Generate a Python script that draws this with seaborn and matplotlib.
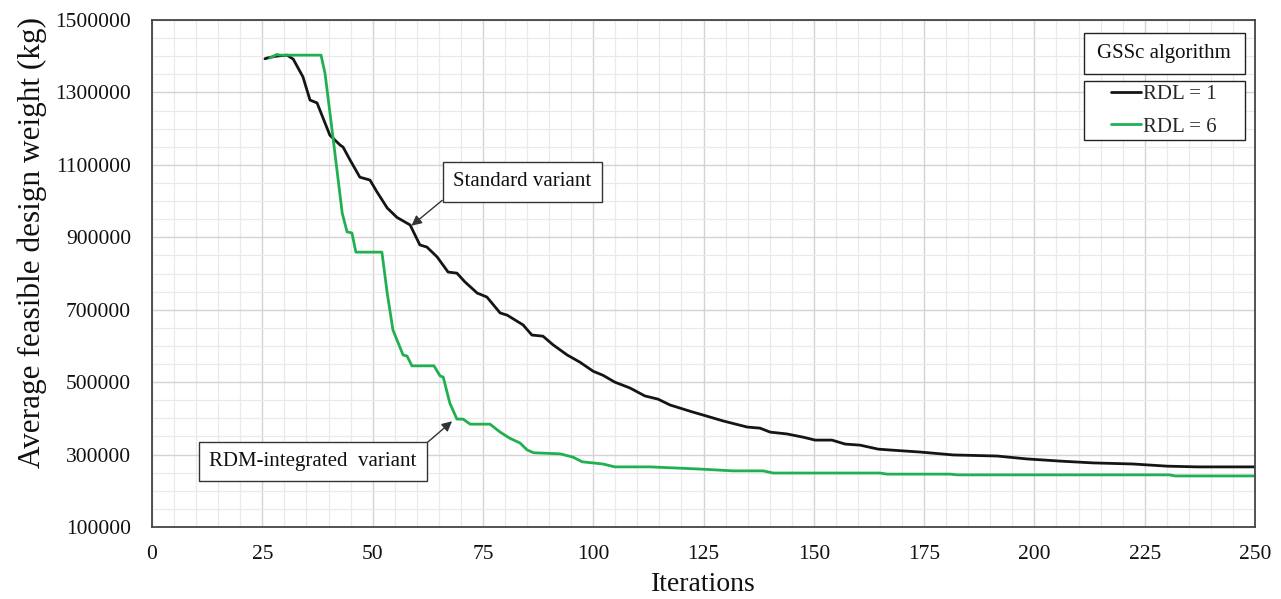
import matplotlib
matplotlib.use("Agg")
import matplotlib.pyplot as plt
from matplotlib.patches import Rectangle
from matplotlib.ticker import MultipleLocator
import seaborn as sns
import pandas as pd

# Average feasible design weight per iteration, RDL = 1 (standard variant)
iter_std = [25.6, 26.1, 28.0, 30.6, 32.0, 34.2, 35.8, 37.4, 40.3, 42.6, 43.3,
            44.9, 47.1, 49.4, 51.0, 53.3, 55.5, 58.5, 60.7, 62.3, 64.6, 67.1,
            69.1, 70.9, 73.7, 75.9, 78.9, 80.5, 84.1, 86.1, 88.6, 90.9, 94.1,
            97.0, 100.0, 102.2, 104.9, 108.3, 111.7, 114.7, 117.4, 122.4,
            125.8, 129.4, 134.9, 137.8, 140.1, 143.9, 147.6, 150.3, 154.1,
            157.1, 160.5, 164.6, 168.0, 174.1, 181.6, 191.5, 198.3, 205.8,
            213.3, 222.3, 230.1, 236.9, 250.0]
weight_std = [1393000, 1395000, 1400000, 1403000, 1392000, 1343000, 1279000,
              1271000, 1182000, 1155000, 1149000, 1113000, 1066000, 1058000,
              1025000, 981000, 955000, 934000, 879000, 873000, 846000, 804000,
              801000, 777000, 746000, 735000, 691000, 685000, 658000, 630000,
              627000, 603000, 575000, 555000, 530000, 519000, 500000, 484000,
              462000, 453000, 437000, 418000, 406000, 393000, 376000, 373000,
              362000, 357000, 348000, 340000, 340000, 329000, 326000, 315000,
              312000, 307000, 299000, 296000, 288000, 282000, 277000, 274000,
              268000, 266000, 266000]

# Average feasible design weight per iteration, RDL = 6 (RDM-integrated variant)
iter_rdm = [26.7, 28.3, 29.0, 38.3, 39.2, 41.0, 43.1, 44.2, 45.3, 46.2, 52.1,
            53.3, 54.6, 56.9, 57.8, 58.9, 63.9, 65.3, 66.0, 67.5, 69.1, 70.5,
            72.1, 76.6, 78.9, 81.1, 83.4, 85.0, 86.5, 92.5, 95.4, 97.5, 102.2,
            104.9, 112.9, 124.2, 131.7, 138.5, 140.8, 165.0, 166.6, 180.9,
            182.5, 230.5, 232.0, 250.0]
weight_rdm = [1395000, 1405000, 1403000, 1403000, 1353000, 1177000, 967000,
              915000, 912000, 859000, 859000, 746000, 644000, 575000, 572000,
              545000, 545000, 517000, 514000, 442000, 398000, 398000, 384000,
              384000, 362000, 345000, 332000, 313000, 305000, 302000, 293000,
              280000, 274000, 266000, 266000, 260000, 255000, 255000, 249000,
              249000, 246000, 246000, 244000, 244000, 241000, 241000]

series_labels = ["RDL = 1", "RDL = 6"]
series_colors = ["#151515", "#20b050"]
x_ticks = list(range(0, 251, 25))
y_ticks = list(range(100000, 1500001, 200000))

df = pd.concat([
    pd.DataFrame({"Iterations": iter_std, "Weight": weight_std, "RDL": series_labels[0]}),
    pd.DataFrame({"Iterations": iter_rdm, "Weight": weight_rdm, "RDL": series_labels[1]}),
], ignore_index=True)

sns.set_theme(style="white")
plt.rcParams["font.family"] = ["Liberation Serif", "DejaVu Serif"]

fig = plt.figure(figsize=(12.81, 5.99), dpi=100)
ax = fig.add_axes([0.1187, 0.1202, 0.861, 0.8464])

sns.lineplot(data=df, x="Iterations", y="Weight", hue="RDL",
             palette=dict(zip(series_labels, series_colors)),
             linewidth=2.0, ax=ax, estimator=None, sort=False)

ax.set_xlim(0, 250)
ax.set_ylim(100000, 1500000)
ax.set_xticks(x_ticks)
ax.set_yticks(y_ticks)
ax.set_xticklabels([str(t) for t in x_ticks], fontsize=15.5)
ax.set_yticklabels([str(t) for t in y_ticks], fontsize=15.5)
ax.xaxis.set_minor_locator(MultipleLocator(5))
ax.yaxis.set_minor_locator(MultipleLocator(50000))
ax.grid(True, which="major", color="#d3d3d3", linewidth=1.0)
ax.grid(True, which="minor", color="#eaeaea", linewidth=0.9)
ax.set_axisbelow(True)
ax.tick_params(axis="both", which="major", direction="in", length=6,
               width=1.0, color="#333333", labelcolor="#111111")
ax.tick_params(axis="x", which="major", pad=13)
ax.tick_params(axis="y", which="major", pad=15)
ax.tick_params(axis="both", which="minor", length=0)
for side in ["left", "right", "top", "bottom"]:
    ax.spines[side].set_color("#444444")
    ax.spines[side].set_linewidth(1.3)

ax.set_xlabel("Iterations", fontsize=20, labelpad=6, color="#111111")
ax.set_ylabel("Average feasible design weight (kg)", fontsize=22.5,
              labelpad=6, color="#111111", y=0.562)

# Framed title box and framed legend box in the upper-right corner
frame_kw = dict(transform=ax.transAxes, facecolor="white",
                edgecolor="#222222", linewidth=1.0, zorder=4)
ax.add_patch(Rectangle((0.845, 0.8935), 0.146, 0.0809, **frame_kw))
ax.add_patch(Rectangle((0.845, 0.7633), 0.146, 0.1164, **frame_kw))
ax.text(0.9175, 0.9339, "GSSc algorithm", transform=ax.transAxes,
        ha="center", va="center", fontsize=15, color="#111111", zorder=5)

handles, labels = ax.get_legend_handles_labels()
leg = ax.legend(handles, labels, loc="center",
                bbox_to_anchor=(0.9175, 0.8215), frameon=False,
                fontsize=15, handlelength=1.45, handletextpad=0.1,
                borderpad=0, labelspacing=0.62, borderaxespad=0)
leg.set_zorder(6)
for line in leg.get_lines():
    line.set_linewidth(2.0)

# Annotations pointing at each curve, arrows leaving from a box corner
ax.annotate("Standard variant", xy=(58.8, 932000), xytext=(83.9, 1053000),
            fontsize=15, ha="center", va="center", color="#111111",
            bbox=dict(boxstyle="square,pad=0.5", facecolor="white",
                      edgecolor="#333333", linewidth=1.0),
            arrowprops=dict(arrowstyle="-|>", color="#333333", lw=1.0,
                            mutation_scale=15, shrinkA=0, shrinkB=0,
                            relpos=(0.0, 0.0)))
ax.annotate("RDM-integrated  variant", xy=(68.0, 392000), xytext=(36.4, 281000),
            fontsize=15, ha="center", va="center", color="#111111",
            bbox=dict(boxstyle="square,pad=0.5", facecolor="white",
                      edgecolor="#333333", linewidth=1.0),
            arrowprops=dict(arrowstyle="-|>", color="#333333", lw=1.0,
                            mutation_scale=15, shrinkA=0, shrinkB=0,
                            relpos=(1.0, 1.0)))

fig.savefig("out.png", dpi=100, facecolor="white")
